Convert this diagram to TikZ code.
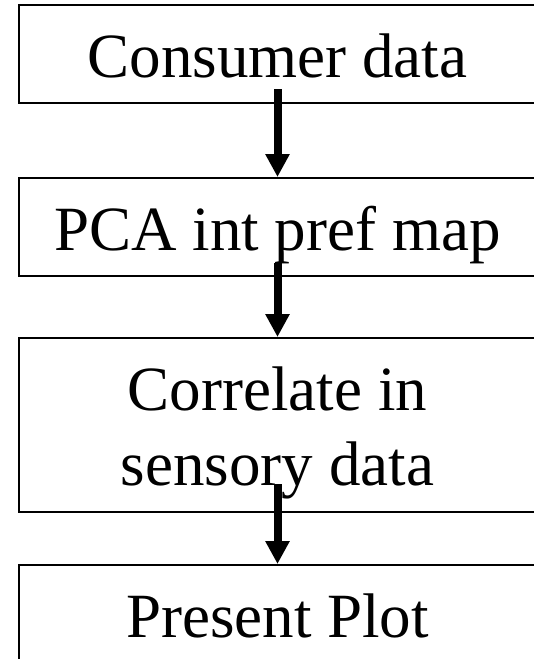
\documentclass[tikz,border=0pt]{standalone}
\usepackage{fontspec}
\setmainfont{Liberation Serif}
\usetikzlibrary{arrows.meta}

\begin{document}
\begin{tikzpicture}[line join=miter,x=1pt,y=-1pt,
	stepbox/.style={draw=black,line width=2pt,rectangle,minimum width=517pt,minimum height=98pt,inner sep=0pt,align=center,font=\fontsize{63}{75}\selectfont,text height=46pt,text depth=0pt},
	flow/.style={-{Triangle[width=23pt,length=23pt]},line width=8pt}]
	\useasboundingbox (0,0) rectangle (534,659);
	\clip (0,0) rectangle (534,659);
	\node[stepbox] (cons) at (277.5,54) {Consumer data};
	\node[stepbox] (pca) at (277.5,227) {PCA int pref map};
	\node[stepbox,minimum height=174pt,text height=121pt,text depth=1pt] (corr) at (277.5,425) {Correlate in\\sensory data};
	\node[stepbox] (plot) at (277.5,614) {Present Plot};

	\draw[flow] ([yshift=15pt]cons.south) -- (pca.north);
	\draw[flow] ([yshift=14pt]pca.south) -- (corr.north);
	\draw[flow] ([yshift=29pt]corr.south) -- (plot.north);
\end{tikzpicture}
\end{document}
